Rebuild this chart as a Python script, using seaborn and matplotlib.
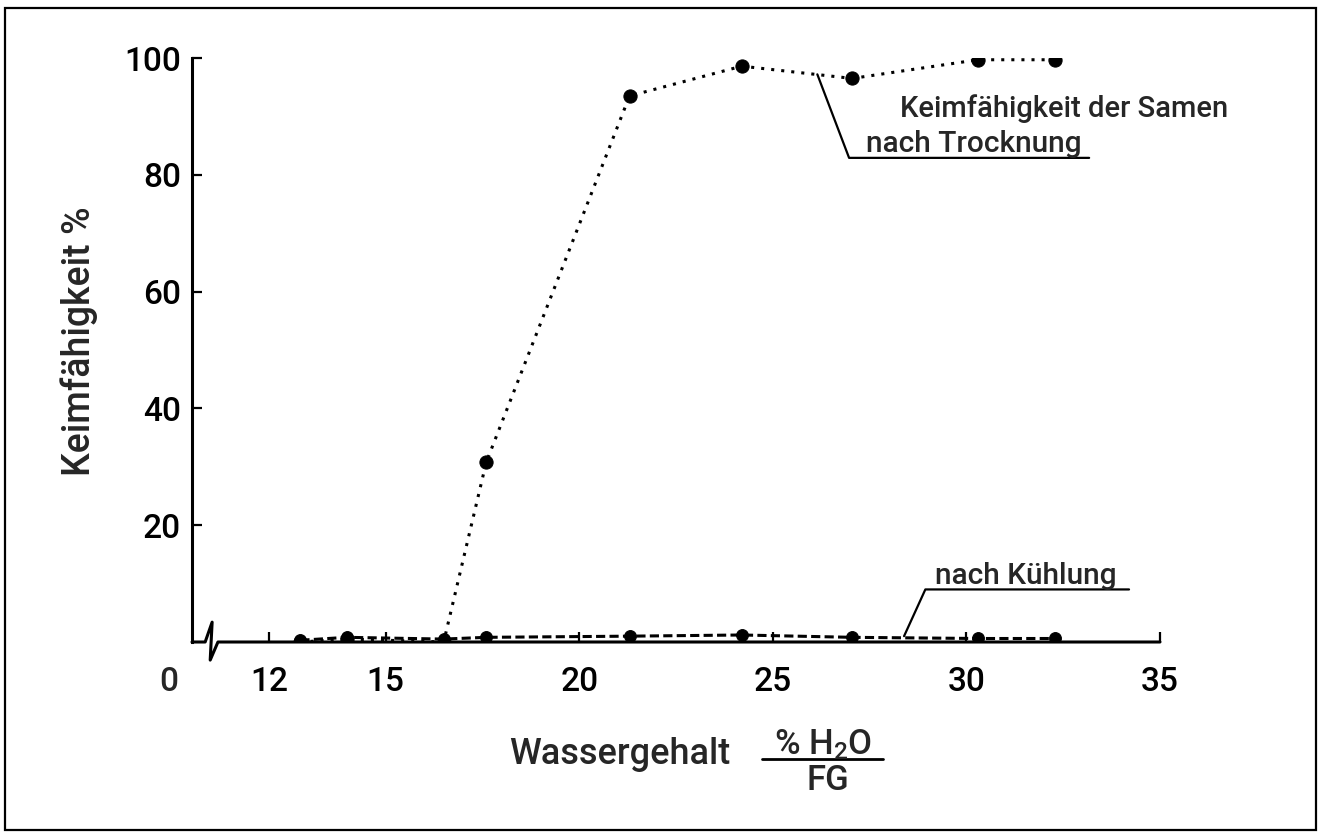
import matplotlib
matplotlib.use("Agg")
import matplotlib.pyplot as plt
import matplotlib.transforms as mtransforms
from matplotlib.patches import Rectangle
from matplotlib.lines import Line2D
import seaborn as sns
import pandas as pd

# Wassergehalt (% H2O / FG) und Keimfähigkeit (%)
wassergehalt = [12.8, 14.0, 16.5, 17.6, 21.3, 24.2, 27.05, 30.3, 32.3]
nach_trocknung = [0.0, 0.5, 0.0, 30.8, 93.5, 98.6, 96.5, 99.7, 99.7]
nach_kuehlung = [0.3, 0.8, 0.5, 0.8, 1.0, 1.2, 0.8, 0.6, 0.6]
x_ticks = [12, 15, 20, 25, 30, 35]
y_ticks = [20, 40, 60, 80, 100]

sns.set_style("ticks")
plt.rcParams["font.family"] = ["Roboto", "DejaVu Sans"]
plt.rcParams["font.weight"] = 500
plt.rcParams["axes.labelweight"] = 500
plt.rcParams["mathtext.fontset"] = "custom"
plt.rcParams["mathtext.rm"] = "Roboto:medium"

df = pd.DataFrame({"x": wassergehalt, "trocknung": nach_trocknung, "kuehlung": nach_kuehlung})

W, H = 1319, 832
fig = plt.figure(figsize=(W / 100, H / 100), dpi=100)
ax = fig.add_axes([192 / W, 1 - 642 / H, 968 / W, 584 / H])

sns.lineplot(data=df, x="x", y="kuehlung", ax=ax, color="black", lw=2.2,
             linestyle=(0, (3.0, 1.4)), marker="o", markersize=8.5,
             markeredgecolor="black")
sns.lineplot(data=df, x="x", y="trocknung", ax=ax, color="black", lw=2.2,
             linestyle=(0, (1, 2.3)), marker="o", markersize=9.5,
             markeredgecolor="black")

ax.set_xlim(10, 35)
ax.set_ylim(0, 100)
ax.set_xticks(x_ticks)
ax.set_yticks(y_ticks)
ax.tick_params(axis="both", direction="in", length=7, width=1.6, colors="black", labelsize=24)
ax.tick_params(axis="x", pad=17)
ax.tick_params(axis="y", pad=8)
for s in ["top", "right", "bottom"]:
    ax.spines[s].set_visible(False)
ax.spines["left"].set_linewidth(2.2)
ax.spines["left"].set_color("black")
ax.set_xlabel("")
ax.set_ylabel("Keimfähigkeit %", fontsize=27, fontweight=500)
ax.yaxis.set_label_coords(-0.097, 0.515)

# x-Achse mit Achsenbruch
trans = mtransforms.blended_transform_factory(ax.transData, ax.transAxes)
ax.plot([10, 10.34, 10.52, 10.47, 10.67, 35], [0, 0, 0.034, -0.031, 0, 0],
        transform=trans, color="black", lw=2.2, clip_on=False)
ax.annotate("0", xy=(9.41, 0), xycoords=trans, xytext=(0, -17),
            textcoords="offset points", ha="center", va="top", fontsize=24)

# Beschriftungen der Kurven
ax.text(28.29, 91.3, "Keimfähigkeit der Samen", fontsize=21, ha="left", va="center")
ax.text(27.41, 85.2, "nach Trocknung", fontsize=21.5, ha="left", va="center")
ax.plot([26.15, 26.97, 33.17], [97.2, 82.9, 82.9], color="black", lw=1.6, clip_on=False)
ax.text(29.19, 11.3, "nach Kühlung", fontsize=21.5, ha="left", va="center")
ax.plot([28.39, 28.94, 34.2], [1.0, 9.0, 9.0], color="black", lw=1.6, clip_on=False)

# x-Achsentitel mit Bruch
fig.text(509 / W, 1 - 754 / H, "Wassergehalt", ha="left", va="center", fontsize=26)
fig.text(823 / W, 1 - 754 / H, "% H$\\mathregular{_2}$O", ha="center", va="baseline", fontsize=25)
fig.add_artist(Line2D([762 / W, 883 / W], [1 - 759 / H] * 2, transform=fig.transFigure,
                      color="black", lw=2))
fig.text(828 / W, 1 - 764 / H, "FG", ha="center", va="top", fontsize=25)

# Rahmen
fig.add_artist(Rectangle((5 / W, 2 / H), 1311 / W, 822 / H, transform=fig.transFigure,
                         fill=False, lw=1.6, ec="black"))

fig.savefig("out.png", dpi=100)
